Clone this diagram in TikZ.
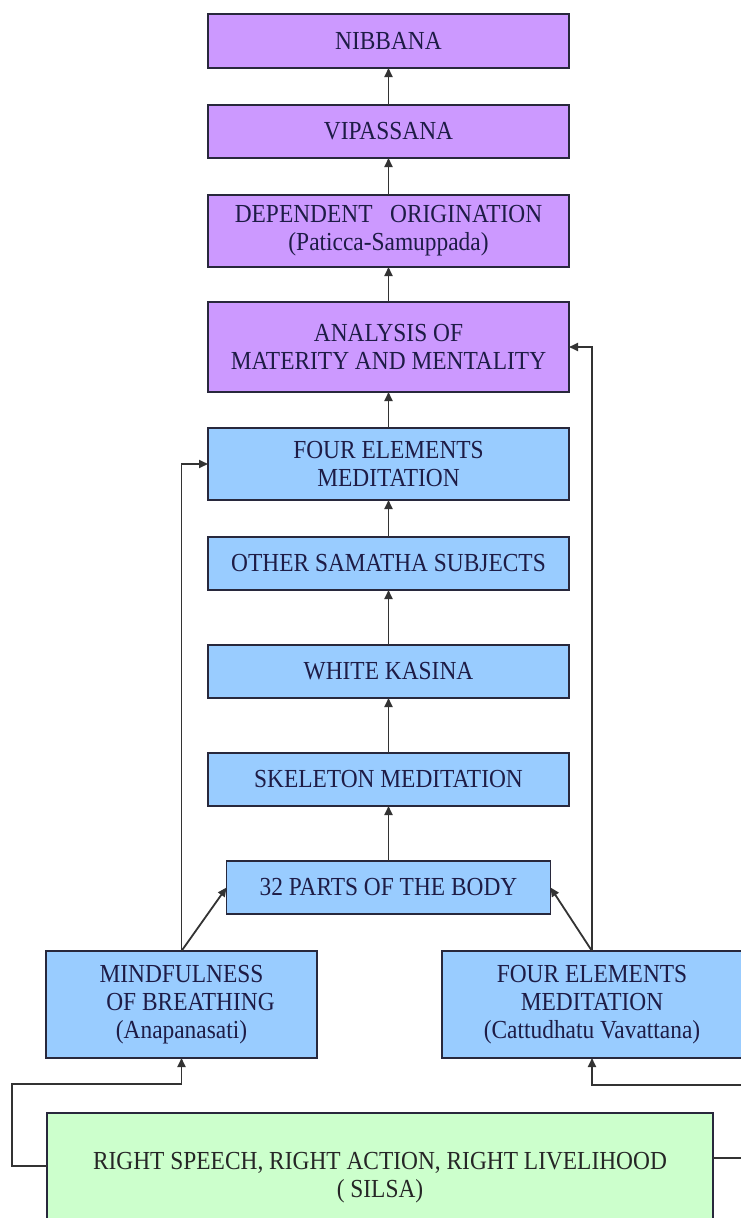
\documentclass[tikz,border=0pt]{standalone}
\usepackage{fontspec}
\setmainfont[FakeStretch=0.9]{Liberation Serif}
\usetikzlibrary{arrows.meta,positioning,calc}
\definecolor{lila}{RGB}{204,153,255}
\definecolor{sky}{RGB}{153,204,255}
\definecolor{mint}{RGB}{204,255,204}
\definecolor{ink}{RGB}{30,28,70}
\definecolor{edge}{RGB}{40,40,60}

\begin{document}
\begin{tikzpicture}[x=1pt,y=-1pt,
  every node/.append style={align=center,draw=edge,line width=1.8pt,text=ink,inner sep=0pt,
    outer sep=0pt,font=\fontsize{26}{28}\selectfont},
  upper/.style={fill=lila,minimum width=361pt},
  lower/.style={fill=sky,minimum width=361pt},
  link/.style={draw=black!80,line width=1.8pt,-{Triangle[length=9pt,width=8pt]}}]
\fill[white] (0,0) rectangle (741,1218);
\useasboundingbox (0,0) rectangle (741,1218);
\node[upper,minimum height=54pt] (nib) at (388.5,41) {NIBBANA};
\node[upper,minimum height=53pt,below=37pt of nib] (vip) {VIPASSANA};
\node[upper,minimum height=72pt,below=37pt of vip] (dep) {DEPENDENT\ \ \ ORIGINATION\\(Paticca-Samuppada)};
\node[upper,minimum height=90pt,below=35pt of dep] (ana) {ANALYSIS OF\\MATERITY AND MENTALITY};
\node[lower,minimum height=72pt,below=36pt of ana] (fe1) {FOUR ELEMENTS\\MEDITATION};
\node[lower,minimum height=53pt,below=37pt of fe1] (oth) {OTHER SAMATHA SUBJECTS};
\node[lower,minimum height=53pt,below=55pt of oth] (wk) {WHITE KASINA};
\node[lower,minimum height=53pt,below=55pt of wk] (sk) {SKELETON MEDITATION};
\node[lower,minimum height=53pt,minimum width=324pt,below=55pt of sk] (pb) {32 PARTS OF THE BODY};
\node[fill=sky,minimum width=271pt,minimum height=107pt] (mb) at (181.5,1004.5)
  {MINDFULNESS\hspace{12pt}\\\hspace{18pt}OF BREATHING\\(Anapanasati)};
\node[fill=sky,minimum width=300pt,minimum height=107pt] (fe2) at (592,1004.5)
  {FOUR ELEMENTS\\MEDITATION\\(Cattudhatu Vavattana)};
\node[fill=mint,minimum width=666pt,minimum height=130pt,text=black!85] (sil) at (380,1178)
  {RIGHT SPEECH, RIGHT ACTION, RIGHT LIVELIHOOD\\( SILSA)};
% column
\foreach \a/\b in {vip/nib,dep/vip,ana/dep,fe1/ana,oth/fe1,wk/oth,sk/wk,pb/sk}
  \draw[link] (\a) -- (\b);
\draw[link] (mb.north) -- (pb.west);
\draw[link] (fe2.north) -- (pb.east);
\draw[link] (mb.north) |- (fe1.west);
\draw[link] (fe2.north) |- (ana.east);
% from silsa
\coordinate (bl1) at (12,1166);
\coordinate (bl2) at (12,1084);
\coordinate (br1) at (748,1158);
\coordinate (br2) at (748,1085);
\draw[link] (sil.west |- bl1) -- (bl1) -- (bl2) -| (mb.south);
\draw[link] (sil.east |- br1) -- (br1) -- (br2) -| (fe2.south);
\end{tikzpicture}
\end{document}
